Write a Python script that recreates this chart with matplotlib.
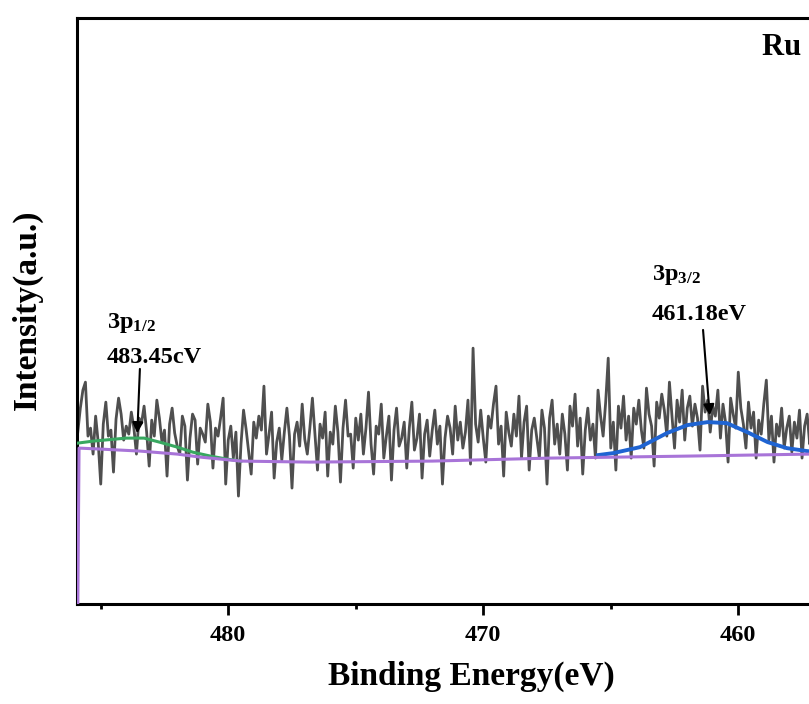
import matplotlib

matplotlib.use("Agg")
import matplotlib.pyplot as plt
import numpy as np

# Ru 3p XPS spectrum (arbitrary units)
energy_start = 485.9
energy_step = 0.1
raw_counts = [
    172, 196, 214, 222, 168, 176, 150, 188, 162, 120,
    180, 202, 168, 174, 132, 185, 206, 190, 164, 178,
    170, 192, 176, 150, 186, 181, 198, 172, 138, 184,
    168, 204, 186, 162, 174, 128, 180, 196, 171, 158,
    150, 188, 178, 124, 166, 190, 184, 140, 176, 170,
    162, 200, 182, 136, 176, 168, 186, 206, 120, 164,
    178, 146, 172, 108, 160, 194, 175, 152, 130, 182,
    166, 188, 174, 218, 150, 170, 192, 126, 162, 176,
    144, 172, 196, 168, 116, 170, 182, 158, 200, 165,
    150, 176, 206, 170, 134, 180, 166, 192, 128, 172,
    160, 198, 172, 122, 176, 204, 168, 170, 136, 186,
    164, 190, 150, 176, 212, 160, 130, 178, 170, 200,
    146, 168, 188, 124, 174, 196, 158, 166, 182, 136,
    176, 202, 154, 166, 190, 126, 170, 184, 148, 174,
    194, 160, 178, 120, 166, 188, 176, 150, 198, 164,
    182, 156, 172, 204, 140, 256, 180, 162, 194, 166,
    142, 188, 176, 200, 218, 160, 178, 128, 192, 172,
    158, 190, 168, 208, 146, 182, 198, 134, 174, 186,
    166, 146, 194, 176, 120, 186, 204, 160, 180, 150,
    190, 170, 134, 198, 178, 210, 158, 186, 130, 174,
    196, 164, 180, 146, 214, 188, 168, 202, 246, 156,
    182, 134, 198, 176, 208, 164, 188, 146, 196, 180,
    204, 174, 156, 216, 190, 178, 138, 202, 186, 210,
    194, 168, 222, 188, 156, 204, 182, 214, 164, 196,
    208, 178, 200, 186, 154, 218, 192, 204, 172, 198,
    188, 214, 166, 200, 182, 142, 206, 190, 176, 232,
    196, 180, 156, 202, 176, 192, 146, 184, 170, 200,
    224, 164, 188, 142, 180, 168, 196, 156, 176, 188,
    152, 182, 166, 194, 146, 178, 190, 160, 172, 180,
    164, 176,
]
raw_energy = energy_start - energy_step * np.arange(len(raw_counts))

# background (purple), first point sits on the axis floor
bg_energy = [485.9, 485.85, 485.0, 483.45, 482.0, 481.1, 479.5, 476.8, 472.0, 467.4, 462.0, 457.2, 455.0]
bg_counts = [0, 156, 155, 153, 150, 147, 143, 142, 143, 146, 148, 150, 150]

# 3p1/2 component (green)
p12_energy = [485.9, 485.3, 484.0, 483.3, 482.7, 482.0, 481.4, 480.7, 480.05, 479.5]
p12_counts = [161, 163, 166, 166, 162, 157, 152, 148, 145, 143]

# 3p3/2 component (blue)
p32_energy = [465.5, 464.9, 463.85, 462.8, 462.0, 461.2, 460.45, 459.65, 458.85, 458.1, 457.3, 456.5, 455.0]
p32_counts = [149, 151, 157, 171, 179, 182, 181, 172, 162, 156, 153, 151, 150]

xticks_major = [480, 470, 460]
xticks_minor = [485, 475, 465, 455]

serif = "Liberation Serif"
plt.rcParams["font.family"] = [serif, "DejaVu Serif"]
plt.rcParams["font.weight"] = "bold"
plt.rcParams["mathtext.fontset"] = "custom"
plt.rcParams["mathtext.rm"] = f"{serif}:bold"
plt.rcParams["mathtext.bf"] = f"{serif}:bold"
plt.rcParams["mathtext.it"] = f"{serif}:bold"

fig = plt.figure(figsize=(8.09, 7.04), dpi=100)
# the right part of the frame runs past the picture edge, as in the reference
ax = fig.add_axes([0.0952, 0.142, 0.975, 0.832])

ax.plot(raw_energy, raw_counts, color="#4f4f4f", lw=2.0, zorder=2)
ax.plot(p12_energy, p12_counts, color="#38a860", lw=2.2, zorder=3)
ax.plot(p32_energy, p32_counts, color="#1f64d2", lw=2.8, zorder=3)
ax.plot(bg_energy, bg_counts, color="#a874d8", lw=2.2, zorder=4)

ax.set_xlim(485.93, 455.0)
ax.set_ylim(0, 586)
ax.set_xticks(xticks_major)
ax.set_xticks(xticks_minor, minor=True)
ax.set_yticks([])
ax.tick_params(axis="x", which="major", direction="out", length=8, width=2.0,
               labelsize=17.5, pad=7)
ax.tick_params(axis="x", which="minor", direction="out", length=3.5, width=2.0)
for lab in ax.get_xticklabels():
    lab.set_fontweight("bold")
for s in ax.spines.values():
    s.set_linewidth(2.2)

ax.set_xlabel("Binding Energy(eV)", fontsize=24, fontweight="bold", labelpad=11)
fig.text(27 / 809, 1 - 310 / 704, "Intensity(a.u.)", rotation=90, fontsize=24,
         fontweight="bold", ha="center", va="center")

ax.text(484.76, 276, r"3p$_{\mathrm{1/2}}$", fontsize=17.5, fontweight="bold", ha="left", va="baseline")
ax.text(484.76, 241, "483.45cV", fontsize=17.5, fontweight="bold", ha="left", va="baseline")
ax.annotate("", xy=(483.57, 168), xytext=(483.46, 238),
            arrowprops=dict(arrowstyle="-|>", color="black", lw=1.5, mutation_scale=16))

ax.text(463.38, 324, r"3p$_{\mathrm{3/2}}$", fontsize=17.5, fontweight="bold", ha="left", va="baseline")
ax.text(463.38, 284, "461.18eV", fontsize=17.5, fontweight="bold", ha="left", va="baseline")
ax.annotate("", xy=(461.11, 186), xytext=(461.39, 277),
            arrowprops=dict(arrowstyle="-|>", color="black", lw=1.5, mutation_scale=16))

ax.text(459.07, 549, "Ru 3p", fontsize=22, fontweight="bold", ha="left", va="baseline")

fig.savefig("out.png", dpi=100)
